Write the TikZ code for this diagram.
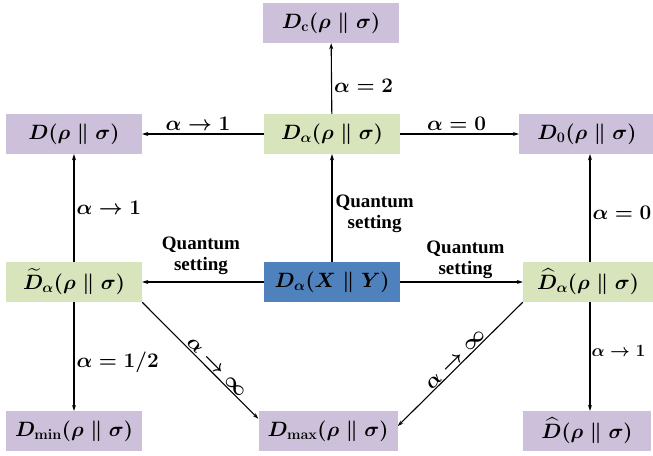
\documentclass[tikz,border=0pt]{standalone}
\usepackage{amsmath,amssymb}
\usepackage{fontspec}
\setmainfont{Liberation Serif}
\usetikzlibrary{arrows.meta}
\pgfdeclarelayer{edgelayer}
\pgfdeclarelayer{nodelayer}
\pgfsetlayers{edgelayer,nodelayer,main}
\definecolor{boxpurple}{RGB}{204,192,218}
\definecolor{boxgreen}{RGB}{216,228,188}
\definecolor{boxblue}{RGB}{79,129,189}
\tikzstyle{divbox}=[rectangle, inner sep=0pt, minimum width=136pt, minimum height=40pt, font=\fontsize{22}{26}\selectfont\boldmath]
\tikzstyle{purplebox}=[divbox, fill=boxpurple]
\tikzstyle{greenbox}=[divbox, fill=boxgreen]
\tikzstyle{bluebox}=[divbox, fill=boxblue]
\tikzstyle{edge}=[draw=black, line width=1.1pt, -{Stealth[length=6pt,width=4pt]}]
\tikzstyle{cond}=[font=\fontsize{19.5}{24}\selectfont\boldmath, inner sep=3pt]
\tikzstyle{setting}=[font=\fontsize{19}{21}\selectfont\bfseries, align=center, inner sep=3pt]

\begin{document}
\begin{tikzpicture}[x=1pt,y=-1pt]
	\useasboundingbox (0,0) rectangle (653,455);
	\begin{pgfonlayer}{nodelayer}
		\node [style=purplebox] (dc) at (331, 23) {$D_{\mathbf{c}}(\rho \parallel \sigma)$};
		\node [style=purplebox] (d) at (74, 134) {$D(\rho \parallel \sigma)$};
		\node [style=greenbox] (da) at (332, 134) {$D_{\alpha}(\rho \parallel \sigma)$};
		\node [style=purplebox] (dz) at (587, 134) {$D_{0}(\rho \parallel \sigma)$};
		\node [style=greenbox] (dt) at (74, 282) {$\widetilde{D}_{\alpha}(\rho \parallel \sigma)$};
		\node [style=bluebox] (dxy) at (332, 282) {$D_{\alpha}(X \parallel Y)$};
		\node [style=greenbox, minimum width=130pt] (dh) at (588, 282) {$\widehat{D}_{\alpha}(\rho \parallel \sigma)$};
		\node [style=purplebox] (dmin) at (74, 431) {$D_{\mathbf{min}}(\rho \parallel \sigma)$};
		\node [style=purplebox, minimum width=139pt] (dmax) at (328, 431) {$D_{\mathbf{max}}(\rho \parallel \sigma)$};
		\node [style=purplebox, minimum width=128pt] (dhb) at (587, 431) {$\widehat{D}(\rho \parallel \sigma)$};
	\end{pgfonlayer}
	\begin{pgfonlayer}{edgelayer}
		% alpha family limits
		\draw [style=edge] (da) -- (dc) node [style=cond, pos=0.4, right, inner sep=2pt] {$\alpha = 2$};
		\draw [style=edge] (da) -- (d) node [style=cond, midway, above, xshift=-5pt] {$\alpha \to 1$};
		\draw [style=edge] (da) -- (dz) node [style=cond, midway, above, xshift=-3pt] {$\alpha = 0$};
		% quantum settings
		\draw [style=edge] (dxy) -- (da) node [style=setting, pos=0.45, right] {Quantum\\setting};
		\draw [style=edge] (dxy) -- (dt) node [style=setting, midway, above, xshift=-2pt, yshift=4pt] {Quantum\\setting};
		\draw [style=edge] (dxy) -- (dh) node [style=setting, midway, above, xshift=4pt] {Quantum\\setting};
		% sandwiched
		\draw [style=edge] (dt) -- (d) node [style=cond, midway, right, inner sep=2pt] {$\alpha \to 1$};
		\draw [style=edge] (dt) -- (dmin) node [style=cond, pos=0.55, right, inner sep=2pt] {$\alpha = 1/2$};
		\draw [style=edge] (dt.south east) -- (dmax.170) node [style=cond, pos=0.6, sloped, above, inner sep=1pt] {$\alpha \to \infty$};
		% geometric
		\draw [style=edge] ([xshift=2pt]dh.north) -- ([xshift=3pt]dz.south) node [style=cond, midway, right, inner sep=2pt, yshift=-5pt] {$\alpha = 0$};
		\draw [style=edge] ([xshift=2pt]dh.south) -- ([xshift=3pt]dhb.north) node [style=cond, pos=0.45, right, inner sep=1pt, font=\fontsize{18}{22}\selectfont\boldmath] {$\alpha \to 1$};
		\draw [style=edge] (dh.south west) -- (dmax.4) node [style=cond, midway, sloped, above, inner sep=1pt] {$\alpha \to \infty$};
	\end{pgfonlayer}
\end{tikzpicture}
\end{document}
